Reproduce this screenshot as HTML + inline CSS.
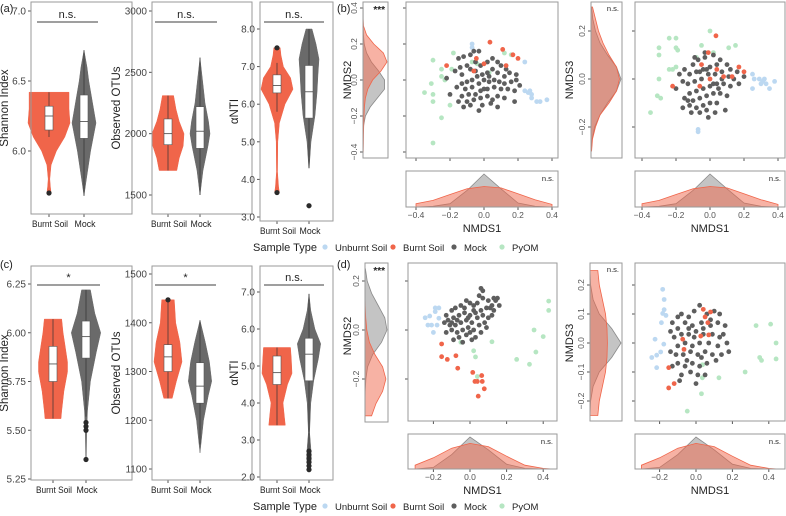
<!DOCTYPE html>
<html><head><meta charset="utf-8"><style>
html,body{margin:0;padding:0;background:#fff;}
svg{display:block;font-family:"Liberation Sans",Arial,sans-serif;}
</style></head><body>
<svg id="fig" width="786" height="516" viewBox="0 0 786 516"></svg>
<script>
// ===== DATA =====
const a1BurntY=[5.7,5.75,5.8,5.9,6.0,6.1,6.2,6.3,6.42];
const a1BurntD=[0.1,0.06,0.04,0.1,0.35,0.75,1.0,0.95,0.95];
const a1BurntBox=[6.1,6.15,6.25,6.32,6.42];
const a1BurntOut=[5.7];
const a1MockY=[5.68,5.8,6.0,6.2,6.35,6.5,6.6,6.72];
const a1MockD=[0,0.2,0.55,1.0,0.7,0.4,0.25,0];
const a1MockBox=[5.68,6.09,6.21,6.4,6.72];
const a1MockOut=[];
const a2BurntY=[1700,1800,1900,2000,2100,2200,2310];
const a2BurntD=[0.55,0.7,0.95,1.0,0.7,0.5,0.35];
const a2BurntBox=[1700,1910,2000,2120,2310];
const a2BurntOut=[];
const a2MockY=[1500,1700,1900,2000,2100,2250,2400,2620];
const a2MockD=[0,0.3,0.8,1.0,0.85,0.5,0.3,0];
const a2MockBox=[1500,1880,2020,2220,2620];
const a2MockOut=[];
const a3BurntY=[3.65,3.8,4.2,5.0,5.5,6.0,6.4,6.7,7.0,7.3,7.5];
const a3BurntD=[0.15,0.1,0.03,0.05,0.15,0.5,1.0,0.85,0.4,0.25,0.2];
const a3BurntBox=[5.8,6.3,6.5,6.78,7.1];
const a3BurntOut=[3.65,7.5];
const a3MockY=[4.3,5.0,5.7,6.3,6.8,7.2,7.6,8.0];
const a3MockD=[0.02,0.2,0.6,0.8,0.9,1.0,0.7,0.3];
const a3MockBox=[4.3,5.63,6.33,7.03,8.0];
const a3MockOut=[3.3];
const c1BurntY=[5.56,5.6,5.7,5.8,5.85,5.95,6.0,6.07];
const c1BurntD=[0.55,0.6,0.75,1.0,1.0,0.8,0.7,0.6];
const c1BurntBox=[5.56,5.75,5.84,5.93,6.07];
const c1BurntOut=[];
const c1MockY=[5.35,5.5,5.6,5.75,5.9,6.0,6.1,6.22];
const c1MockD=[0.02,0.05,0.1,0.3,0.7,1.0,0.6,0.3];
const c1MockBox=[5.57,5.87,5.98,6.06,6.22];
const c1MockOut=[5.35,5.5,5.52,5.54];
const c2BurntY=[1245,1280,1320,1360,1400,1447];
const c2BurntD=[0.3,0.6,1.0,0.85,0.55,0.45];
const c2BurntBox=[1245,1300,1330,1355,1447];
const c2BurntOut=[1447];
const c2MockY=[1133,1200,1250,1280,1320,1360,1405];
const c2MockD=[0,0.3,0.7,1.0,0.8,0.45,0];
const c2MockBox=[1150,1235,1270,1318,1405];
const c2MockOut=[];
const c3BurntY=[3.4,3.6,4.0,4.5,4.8,5.2,5.5];
const c3BurntD=[0.55,0.5,0.4,0.7,1.0,0.95,0.9];
const c3BurntBox=[3.4,4.5,4.82,5.27,5.5];
const c3BurntOut=[];
const c3MockY=[2.2,2.5,2.8,3.2,4.0,4.6,5.2,5.6,6.0,6.5,6.95];
const c3MockD=[0.1,0.2,0.15,0.05,0.15,0.4,0.8,1.0,0.5,0.15,0];
const c3MockBox=[2.75,4.6,5.32,5.75,6.95];
const c3MockOut=[2.2,2.3,2.4,2.5,2.6,2.7];

const b1Unburnt=[[-0.07,0.2],[-0.07,0.18],[0.24,0.1],[0.24,-0.06],[0.26,-0.07],[0.28,-0.08],[0.28,-0.1],[0.31,-0.12],[0.33,-0.12],[0.37,-0.11],[0.27,-0.06]];
const b1Burnt=[[0.035,0.21],[0.11,0.17],[0.17,0.14],[0.2,0.12],[-0.22,0.08],[-0.045,0.12],[0.0,0.09],[-0.06,0.05],[0.13,0.08]];
const b1PyOM=[[-0.18,0.15],[-0.3,0.11],[-0.25,0.06],[-0.25,0.02],[-0.31,-0.02],[-0.35,-0.07],[-0.3,-0.08],[-0.3,-0.12],[-0.2,-0.14],[-0.25,-0.21],[-0.3,-0.35],[-0.19,0.06],[-0.23,0.0],[0.12,0.15],[0.16,0.14],[-0.04,0.09],[-0.07,0.1],[0.03,0.04]];
const b1Mock=[[-0.15,0.12],[-0.12,0.13],[-0.08,0.14],[-0.06,0.16],[-0.03,0.16],[-0.05,0.1],[-0.1,0.08],[-0.14,0.07],[-0.17,0.05],[-0.13,0.03],[-0.08,0.06],[-0.02,0.08],[0.02,0.1],[0.05,0.12],[0.08,0.1],[0.1,0.08],[0.13,0.06],[0.15,0.04],[0.12,0.02],[0.08,0.04],[0.05,0.06],[0.02,0.04],[-0.01,0.03],[-0.04,0.02],[-0.07,0.0],[-0.1,-0.01],[-0.13,-0.02],[-0.16,-0.04],[-0.11,-0.05],[-0.07,-0.04],[-0.03,-0.02],[0.0,0.0],[0.03,-0.01],[0.06,0.0],[0.09,-0.01],[0.12,-0.02],[0.16,-0.01],[0.19,0.0],[0.21,-0.03],[0.18,-0.06],[0.14,-0.05],[0.1,-0.05],[0.06,-0.04],[0.02,-0.05],[-0.02,-0.06],[-0.05,-0.08],[-0.09,-0.08],[-0.13,-0.09],[-0.15,-0.12],[-0.1,-0.12],[-0.06,-0.11],[-0.02,-0.1],[0.02,-0.09],[0.05,-0.11],[0.08,-0.09],[0.12,-0.1],[0.18,-0.12],[0.04,-0.13],[-0.01,-0.14],[-0.08,-0.14],[-0.12,-0.15],[0.0,-0.05],[0.03,0.02],[-0.05,0.05],[0.08,-0.15],[0.19,0.03],[-0.2,-0.08],[-0.22,0.01],[-0.03,-0.17]];
const b2Unburnt=[[-0.07,-0.21],[-0.07,-0.22],[0.25,0.02],[0.26,0.0],[0.29,0.0],[0.31,-0.01],[0.32,0.0],[0.3,-0.02],[0.33,-0.02],[0.35,-0.04],[0.38,-0.01],[0.25,-0.04]];
const b2Burnt=[[0.035,0.18],[-0.01,0.11],[-0.05,0.06],[0.04,0.04],[0.0,0.0],[-0.06,-0.03],[-0.22,-0.03],[0.17,0.05],[0.2,0.03],[0.13,0.01],[0.08,0.01]];
const b2PyOM=[[0.0,0.2],[-0.24,0.17],[-0.2,0.17],[-0.2,0.13],[-0.19,0.12],[-0.3,0.13],[-0.3,0.1],[-0.05,0.14],[0.02,0.11],[0.11,0.13],[0.15,0.14],[-0.08,0.09],[-0.2,0.05],[-0.24,0.04],[-0.22,0.04],[-0.3,0.0],[-0.31,-0.07],[-0.29,-0.08],[-0.35,-0.14]];
const b2Mock=[[-0.18,0.02],[-0.15,0.04],[-0.1,0.06],[-0.07,0.08],[-0.03,0.09],[0.02,0.1],[0.06,0.08],[0.1,0.06],[0.04,0.06],[0.0,0.05],[-0.04,0.04],[-0.08,0.03],[-0.12,0.02],[-0.16,-0.01],[-0.2,-0.04],[-0.13,-0.02],[-0.09,-0.01],[-0.05,0.0],[-0.01,0.02],[0.03,0.02],[0.07,0.03],[0.11,0.01],[0.14,0.0],[0.17,-0.02],[0.12,-0.03],[0.08,-0.02],[0.04,-0.02],[0.0,-0.03],[-0.04,-0.04],[-0.08,-0.05],[-0.12,-0.06],[-0.15,-0.08],[-0.1,-0.09],[-0.06,-0.08],[-0.02,-0.07],[0.02,-0.06],[0.06,-0.06],[0.1,-0.07],[0.04,-0.1],[0.0,-0.1],[-0.04,-0.11],[-0.08,-0.12],[-0.12,-0.11],[-0.16,-0.12],[-0.11,-0.14],[-0.06,-0.14],[-0.02,-0.13],[0.03,-0.14],[0.09,-0.13],[-0.01,-0.16],[-0.13,-0.09],[0.16,0.03],[0.2,0.01],[-0.03,0.11],[-0.09,0.09],[0.07,0.0],[-0.02,0.04],[0.02,-0.02],[-0.06,0.03],[0.12,0.04],[0.05,-0.04]];
const d1Unburnt=[[-0.245,0.05],[-0.22,0.057],[-0.19,0.09],[-0.17,0.09],[-0.19,0.075],[-0.17,0.048],[-0.18,0.02],[-0.2,-0.01],[-0.23,0.02],[-0.21,0.02]];
const d1Burnt=[[-0.155,-0.057],[-0.155,-0.109],[-0.124,-0.12],[-0.077,-0.105],[-0.067,-0.156],[0.015,-0.173],[0.064,-0.186],[0.04,-0.21],[0.027,-0.21],[0.067,-0.21],[0.078,-0.24],[0.045,-0.27]];
const d1PyOM=[[0.43,0.118],[0.43,0.08],[0.35,0.0],[0.4,-0.027],[0.36,-0.09],[0.255,-0.12],[0.325,-0.14],[0.12,-0.048],[0.02,-0.085],[0.03,-0.11],[0.04,-0.19],[-0.05,-0.05]];
const d1Mock=[[-0.13,0.06],[-0.1,0.08],[-0.08,0.09],[-0.05,0.1],[-0.02,0.12],[0.0,0.11],[0.02,0.1],[0.05,0.14],[0.07,0.13],[0.1,0.12],[0.13,0.13],[0.15,0.13],[0.12,0.1],[0.09,0.09],[0.06,0.08],[0.03,0.07],[0.0,0.06],[-0.03,0.07],[-0.06,0.06],[-0.09,0.05],[-0.12,0.04],[-0.14,0.03],[-0.11,0.02],[-0.08,0.02],[-0.05,0.03],[-0.02,0.04],[0.01,0.03],[0.04,0.05],[0.07,0.06],[0.1,0.05],[0.13,0.08],[0.16,0.1],[0.08,0.03],[0.05,0.02],[0.02,0.0],[-0.01,0.01],[-0.04,0.0],[-0.07,-0.01],[-0.1,0.0],[-0.13,-0.01],[-0.06,-0.03],[-0.02,-0.02],[0.03,-0.03],[0.06,-0.01],[0.09,0.01],[-0.09,-0.04],[-0.04,-0.05],[0.01,-0.04],[0.12,0.06],[0.04,0.11],[-0.03,0.09],[0.14,0.12],[0.06,0.17],[0.07,0.16],[-0.1,0.03],[0.0,-0.01],[-0.07,0.04],[0.11,0.09],[0.02,0.08],[-0.01,0.05]];
const d2Unburnt=[[-0.183,0.185],[-0.175,0.15],[-0.175,0.115],[-0.183,0.102],[-0.165,0.095],[-0.19,0.07],[-0.225,0.013],[-0.177,-0.004],[-0.243,-0.05],[-0.216,-0.042],[-0.194,-0.031],[-0.216,-0.085]];
const d2Burnt=[[0.04,0.116],[0.08,0.107],[0.05,0.09],[0.065,0.07],[0.07,0.028],[0.026,0.024],[-0.073,0.013],[-0.066,-0.022],[-0.15,-0.085],[-0.12,-0.14],[-0.15,-0.155]];
const d2PyOM=[[0.33,0.06],[0.41,0.065],[0.44,0.0],[0.35,-0.05],[0.36,-0.06],[0.44,-0.055],[0.27,-0.1],[0.126,-0.12],[0.035,-0.12],[0.03,-0.175],[-0.048,-0.235],[0.036,-0.075]];
const d2Mock=[[-0.13,0.07],[-0.08,0.1],[-0.04,0.09],[-0.01,0.11],[0.02,0.13],[0.06,0.1],[0.1,0.11],[0.13,0.1],[0.16,0.06],[0.12,0.07],[0.08,0.06],[0.03,0.07],[-0.02,0.06],[-0.06,0.07],[-0.1,0.05],[-0.14,0.04],[-0.12,0.02],[-0.08,0.03],[-0.04,0.03],[0.0,0.04],[0.04,0.03],[0.09,0.03],[0.13,0.02],[0.17,0.0],[0.12,-0.01],[0.07,0.0],[0.02,0.0],[-0.02,-0.01],[-0.06,0.0],[-0.1,-0.01],[-0.14,-0.03],[-0.11,-0.04],[-0.07,-0.04],[-0.03,-0.03],[0.01,-0.04],[0.05,-0.03],[0.09,-0.04],[0.14,-0.04],[0.18,-0.03],[0.11,-0.06],[0.06,-0.07],[0.02,-0.08],[-0.02,-0.07],[-0.06,-0.08],[-0.1,-0.07],[-0.13,-0.08],[-0.08,-0.11],[-0.03,-0.1],[0.01,-0.11],[0.05,-0.11],[-0.09,-0.13],[0.0,-0.14],[-0.05,-0.06],[0.04,0.05],[-0.01,0.02],[0.08,0.08],[-0.1,0.09],[0.15,0.03],[0.03,-0.05],[-0.04,0.05]];

const b1MargY=[0.4,0.35,0.3,0.25,0.2,0.15,0.1,0.05,0.0,-0.05,-0.1,-0.15,-0.2,-0.25,-0.3,-0.35,-0.4];
const b1MargBurnt=[0,0,0.02,0.15,0.45,0.85,1.0,0.75,0.4,0.2,0.1,0.06,0.04,0.03,0.02,0.015,0.01];
const b1MargMock=[0.01,0.01,0.01,0.02,0.05,0.15,0.35,0.65,0.9,0.9,0.6,0.3,0.1,0.03,0.01,0,0];
const b2MargY=[0.3,0.25,0.2,0.15,0.1,0.05,0.0,-0.05,-0.1,-0.15,-0.2,-0.25,-0.3];
const b2MargBurnt=[0.05,0.15,0.25,0.4,0.6,0.85,0.95,0.85,0.6,0.3,0.15,0.05,0.02];
const b2MargMock=[0.02,0.06,0.15,0.3,0.55,0.85,1.0,0.85,0.55,0.3,0.12,0.04,0.01];
const bNmds1X=[-0.4,-0.3,-0.2,-0.1,0.0,0.1,0.2,0.3,0.4];
const bNmds1Mock=[0,0.02,0.1,0.5,1.0,0.55,0.12,0.02,0];
const bNmds1Burnt=[0.1,0.2,0.38,0.55,0.62,0.58,0.4,0.22,0.08];
const d1MargY=[0.25,0.2,0.15,0.1,0.05,0.0,-0.05,-0.1,-0.15,-0.2,-0.25,-0.3,-0.35];
const d1MargMock=[0.02,0.1,0.3,0.6,0.9,1.0,0.75,0.35,0.12,0.04,0.01,0,0];
const d1MargBurnt=[0,0,0,0.01,0.03,0.08,0.2,0.45,0.8,0.95,0.8,0.5,0.3];
const d2MargY=[0.25,0.2,0.15,0.1,0.05,0.0,-0.05,-0.1,-0.15,-0.2,-0.25];
const d2MargBurnt=[0.25,0.3,0.4,0.5,0.55,0.56,0.55,0.5,0.4,0.3,0.25];
const d2MargMock=[0,0.02,0.1,0.3,0.7,1.0,0.7,0.3,0.1,0.02,0];
const dNmds1X=[-0.3,-0.2,-0.1,0.0,0.1,0.2,0.3,0.4,0.45];
const dNmds1Mock=[0,0.05,0.45,1.0,0.6,0.15,0.02,0,0];
const dNmds1Burnt=[0.12,0.35,0.65,0.8,0.7,0.4,0.12,0.02,0];

const a1Ticks=[6.0,6.5,7.0], a2Ticks=[1500,2000,2500,3000], a3Ticks=[3,4,5,6,7,8];
const c1Ticks=[5.25,5.5,5.75,6.0,6.25], c2Ticks=[1100,1200,1300,1400,1500], c3Ticks=[2,3,4,5,6,7];
const bMargTicks=[-0.4,-0.2,0,0.2,0.4], b2MargTicks=[-0.2,0,0.2], bXTicks=[-0.4,-0.2,0,0.2,0.4];
const d1MargTicks=[-0.2,0,0.2], d2MargTicks=[-0.2,-0.1,0,0.1,0.2], dXTicks=[-0.2,0,0.2,0.4];
const categories=["Burnt Soil","Mock"];
const legendLabels=["Unburnt Soil","Burnt Soil","Mock","PyOM"];

// ===== DRAWING =====
const NS="http://www.w3.org/2000/svg";
const svg=document.getElementById('fig');
const RED="#f0654a", GRAY="#6a6a6a", DGRAY="#5e5e5e", BLUE="#bcd8f1", GREEN="#b6e6c2", DENSGRAY="#8a8a8a";
function mk(tag,attrs,parent){const e=document.createElementNS(NS,tag);for(const k in attrs)e.setAttribute(k,attrs[k]);(parent||svg).appendChild(e);return e;}
function lin(d0,r0,d1,r1){return v=>r0+(v-d0)*(r1-r0)/(d1-d0);}
function txt(x,y,s,size,anchor,parent,extra){const t=mk('text',Object.assign({x:x,y:y,'font-size':size,'text-anchor':anchor||'middle',fill:'#222'},extra||{}),parent);t.textContent=s;return t;}
function fmt(v,dec){return v.toFixed(dec).replace('-','−');}
function frame(x0,y0,x1,y1,name){const r=mk('rect',{x:x0,y:y0,width:x1-x0,height:y1-y0,fill:'none',stroke:'#9a9a9a','stroke-width':1});

return r;}

const catLabelLen=[36,21];
function violinPanel(p){
  const g=mk('g',{});
  
  
  const ys=p.ys;
  p.ticks.forEach(t=>{mk('line',{x1:p.x0-3,x2:p.x0,y1:ys(t),y2:ys(t),stroke:'#555'},g);
    const l=txt(p.x0-5,ys(t)+3.5,fmt(t,p.dec),10,'end',g,{fill:'#444'});
    
    });
  p.groups.forEach((gr,i)=>{
    const cx=p.cx[i], col=i===0?RED:GRAY;
    let pts=[];
    for(let k=0;k<gr.y.length;k++)pts.push([cx+gr.d[k]*gr.w,ys(gr.y[k])]);
    for(let k=gr.y.length-1;k>=0;k--)pts.push([cx-gr.d[k]*gr.w,ys(gr.y[k])]);
    const v=mk('path',{d:'M'+pts.map(q=>q[0].toFixed(1)+','+q[1].toFixed(1)).join('L')+'Z',fill:col,stroke:col,'stroke-width':0.5},g);
    
    
    const b=gr.box;
    mk('line',{x1:cx,x2:cx,y1:ys(b[0]),y2:ys(b[4]),stroke:'#333','stroke-width':0.7},g);
    const r=mk('rect',{x:cx-4,y:ys(b[3]),width:8,height:ys(b[1])-ys(b[3]),fill:'#fff',stroke:'#555','stroke-width':0.6},g);
    
    
    mk('line',{x1:cx-4,x2:cx+4,y1:ys(b[2]),y2:ys(b[2]),stroke:'#444','stroke-width':0.8},g);
    gr.out.forEach(o=>{const c=mk('circle',{cx:cx,cy:ys(o),r:2.6,fill:'#2a2a2a'},g);
      
      });
    mk('line',{x1:cx,x2:cx,y1:p.y1,y2:p.y1+3,stroke:'#555'},g);
    const xl=txt(cx+(i===0?1:1),p.y1+13,categories[i],9.5,'middle',g,{textLength:catLabelLen[i],lengthAdjust:'spacingAndGlyphs'});
    
    
  });
  frame(p.x0,p.y0,p.x1,p.y1,p.name+'-frame');
  const sb=mk('line',{x1:p.sig[0],x2:p.sig[1],y1:p.sig[2],y2:p.sig[2],stroke:'#666','stroke-width':1.3},g);
  
  
  const st=txt((p.sig[0]+p.sig[1])/2,p.sig[2]-4,p.sigText,11,'middle',g);
  
  
  const at=txt(0,0,p.title,11.5,'middle',g,{transform:'translate('+p.tx+','+((p.y0+p.y1)/2)+') rotate(-90)'});
  
  
}

violinPanel({name:'shannon-violin-a',x0:31,x1:132,y0:2,y1:214,ys:lin(6.0,151,7.0,11),ticks:a1Ticks,dec:1,cx:[49,84],
  groups:[{y:a1BurntY,d:a1BurntD,box:a1BurntBox,out:a1BurntOut,w:21},{y:a1MockY,d:a1MockD,box:a1MockBox,out:a1MockOut,w:12}],
  sig:[37,98,22],sigText:'n.s.',title:'Shannon Index',tx:8});
violinPanel({name:'otus-violin-a',x0:152,x1:252,y0:2,y1:214,ys:lin(1500,195,3000,11),ticks:a2Ticks,dec:0,cx:[168,200],
  groups:[{y:a2BurntY,d:a2BurntD,box:a2BurntBox,out:a2BurntOut,w:16},{y:a2MockY,d:a2MockD,box:a2MockBox,out:a2MockOut,w:10}],
  sig:[155,217,22],sigText:'n.s.',title:'Observed OTUs',tx:120});
violinPanel({name:'nti-violin-a',x0:260,x1:333,y0:2,y1:221,ys:lin(3,217,8,29),ticks:a3Ticks,dec:1,cx:[277,309],
  groups:[{y:a3BurntY,d:a3BurntD,box:a3BurntBox,out:a3BurntOut,w:16},{y:a3MockY,d:a3MockD,box:a3MockBox,out:a3MockOut,w:10}],
  sig:[264,324,22],sigText:'n.s.',title:'αNTI',tx:238});
violinPanel({name:'shannon-violin-c',x0:31,x1:132,y0:266,y1:480,ys:lin(5.25,479,6.25,284),ticks:c1Ticks,dec:2,cx:[53,86],
  groups:[{y:c1BurntY,d:c1BurntD,box:c1BurntBox,out:c1BurntOut,w:14.5},{y:c1MockY,d:c1MockD,box:c1MockBox,out:c1MockOut,w:14.7}],
  sig:[37,100,285],sigText:'*',title:'Shannon Index',tx:8});
violinPanel({name:'otus-violin-c',x0:152,x1:252,y0:266,y1:480,ys:lin(1100,469,1500,274),ticks:c2Ticks,dec:0,cx:[168,200],
  groups:[{y:c2BurntY,d:c2BurntD,box:c2BurntBox,out:c2BurntOut,w:14},{y:c2MockY,d:c2MockD,box:c2MockBox,out:c2MockOut,w:11.7}],
  sig:[155,216,285],sigText:'*',title:'Observed OTUs',tx:120});
violinPanel({name:'nti-violin-c',x0:260,x1:333,y0:266,y1:480,ys:lin(2,477,7,292),ticks:c3Ticks,dec:1,cx:[277,309],
  groups:[{y:c3BurntY,d:c3BurntD,box:c3BurntBox,out:c3BurntOut,w:15},{y:c3MockY,d:c3MockD,box:c3MockBox,out:c3MockOut,w:11.7}],
  sig:[264,324,285],sigText:'n.s.',title:'αNTI',tx:238});

function densPoly(g,pts,col,name){
  const p=mk('path',{d:'M'+pts.map(q=>q[0].toFixed(1)+','+q[1].toFixed(1)).join('L')+'Z',fill:col,'fill-opacity':0.5,stroke:col,'stroke-width':0.8},g);
  
  
}
function marginal(m){
  const g=mk('g',{});
  
  
  const W=m.x1-m.x0-1;
  [[m.mock,DENSGRAY,'density-mock'],[m.burnt,RED,'density-burnt-soil']].forEach(s=>{
    const pts=[[m.x0,m.ys(m.grid[0])]];
    m.grid.forEach((y,k)=>pts.push([m.x0+s[0][k]*W,m.ys(y)]));
    pts.push([m.x0,m.ys(m.grid[m.grid.length-1])]);
    densPoly(g,pts,s[1],s[2]);
  });
  m.ticks.forEach(t=>{mk('line',{x1:m.x0-3,x2:m.x0,y1:m.ys(t),y2:m.ys(t),stroke:'#555'},g);
    const l=txt(0,0,fmt(t,1),8.5,'middle',g,{fill:'#555',transform:'translate('+(m.x0-6)+','+m.ys(t)+') rotate(-90)'});
    
    });
  frame(m.x0,m.y0,m.x1,m.y1,m.name+'-frame');
  const s=txt(m.x1-3,m.y0+(m.star?11:9),m.label,m.star?10:7.5,'end',g,{'font-weight':m.star?'bold':'normal'});
  
  
  const t=txt(0,0,m.title,11,'middle',g,{transform:'translate('+m.tx+','+m.ty+') rotate(-90)'});
  
  
}
function bottomDens(m){
  const g=mk('g',{});
  
  
  const H=m.y1-m.y0-3;
  [[m.mock,DENSGRAY,'density-mock'],[m.burnt,RED,'density-burnt-soil']].forEach(s=>{
    const pts=[[m.xs(m.grid[0]),m.y1]];
    m.grid.forEach((x,k)=>pts.push([m.xs(x),m.y1-s[0][k]*H]));
    pts.push([m.xs(m.grid[m.grid.length-1]),m.y1]);
    densPoly(g,pts,s[1],s[2]);
  });
  m.ticks.forEach(t=>{mk('line',{x1:m.xs(t),x2:m.xs(t),y1:m.y1,y2:m.y1+3,stroke:'#555'},g);
    const l=txt(m.xs(t),m.y1+11,fmt(t,1),8.5,'middle',g,{fill:'#555'});
    
    });
  frame(m.x0,m.y0,m.x1,m.y1,m.name+'-frame');
  const s=txt(m.x1-4,m.y0+10,'n.s.',7.5,'end',g);
  
  
  const t=txt((m.x0+m.x1)/2,m.y1+25,'NMDS1',11,'middle',g);
  
  
}
function scatter(s){
  const g=mk('g',{});
  
  
  s.yt.forEach(t=>mk('line',{x1:s.x0-3,x2:s.x0,y1:s.ys(t),y2:s.ys(t),stroke:'#555'},g));
  s.xt.forEach(t=>mk('line',{x1:s.xs(t),x2:s.xs(t),y1:s.y1,y2:s.y1+3,stroke:'#555'},g));
  [[s.pyom,GREEN,'point-pyom'],[s.unburnt,BLUE,'point-unburnt-soil'],[s.mock,DGRAY,'point-mock'],[s.burnt,RED,'point-burnt-soil']].forEach(ser=>{
    ser[0].forEach(p=>{const c=mk('circle',{cx:s.xs(p[0]),cy:s.ys(p[1]),r:2.4,fill:ser[1]},g);
      
      });
  });
  frame(s.x0,s.y0,s.x1,s.y1,s.name+'-frame');
}

const bxs1=lin(0,484,0.4,552), bys=lin(0,80,0.2,44);
marginal({name:'nmds2-marginal-b',x0:363,x1:388,y0:2,y1:158,ys:bys,grid:b1MargY,burnt:b1MargBurnt,mock:b1MargMock,ticks:bMargTicks,label:'***',star:true,title:'NMDS2',tx:351,ty:80});
scatter({name:'nmds-scatter-b1',x0:406,x1:558,y0:2,y1:158,xs:bxs1,ys:bys,xt:bXTicks,yt:bMargTicks,unburnt:b1Unburnt,burnt:b1Burnt,pyom:b1PyOM,mock:b1Mock});
bottomDens({name:'nmds1-density-b1',x0:406,x1:558,y0:171,y1:207,xs:bxs1,grid:bNmds1X,burnt:bNmds1Burnt,mock:bNmds1Mock,ticks:bXTicks});
const bxs2=lin(0,710,0.4,778), bys2=lin(0,79,0.2,31);
marginal({name:'nmds3-marginal-b',x0:591,x1:622,y0:2,y1:158,ys:bys2,grid:b2MargY,burnt:b2MargBurnt,mock:b2MargMock,ticks:b2MargTicks,label:'n.s.',star:false,title:'NMDS3',tx:573,ty:80});
scatter({name:'nmds-scatter-b2',x0:635,x1:785,y0:2,y1:158,xs:bxs2,ys:bys2,xt:bXTicks,yt:b2MargTicks,unburnt:b2Unburnt,burnt:b2Burnt,pyom:b2PyOM,mock:b2Mock});
bottomDens({name:'nmds1-density-b2',x0:635,x1:785,y0:171,y1:207,xs:bxs2,grid:bNmds1X,burnt:bNmds1Burnt,mock:bNmds1Mock,ticks:bXTicks});
const dxs1=lin(0,470,0.2,506.6), dys1=lin(0,330,0.2,281);
marginal({name:'nmds2-marginal-d',x0:365,x1:388,y0:263,y1:422,ys:dys1,grid:d1MargY,burnt:d1MargBurnt,mock:d1MargMock,ticks:d1MargTicks,label:'***',star:true,title:'NMDS2',tx:351,ty:336});
scatter({name:'nmds-scatter-d1',x0:408,x1:557,y0:263,y1:421,xs:dxs1,ys:dys1,xt:dXTicks,yt:d1MargTicks,unburnt:d1Unburnt,burnt:d1Burnt,pyom:d1PyOM,mock:d1Mock});
bottomDens({name:'nmds1-density-d1',x0:408,x1:557,y0:434,y1:469,xs:dxs1,grid:dNmds1X,burnt:dNmds1Burnt,mock:dNmds1Mock,ticks:dXTicks});
const dxs2=lin(0,696,0.2,732.4), dys2=lin(0,343,0.1,314);
marginal({name:'nmds3-marginal-d',x0:590,x1:622,y0:263,y1:421,ys:dys2,grid:d2MargY,burnt:d2MargBurnt,mock:d2MargMock,ticks:d2MargTicks,label:'n.s.',star:false,title:'NMDS3',tx:573,ty:343});
scatter({name:'nmds-scatter-d2',x0:635,x1:785,y0:263,y1:421,xs:dxs2,ys:dys2,xt:dXTicks,yt:d2MargTicks,unburnt:d2Unburnt,burnt:d2Burnt,pyom:d2PyOM,mock:d2Mock});
bottomDens({name:'nmds1-density-d2',x0:635,x1:785,y0:434,y1:469,xs:dxs2,grid:dNmds1X,burnt:dNmds1Burnt,mock:dNmds1Mock,ticks:dXTicks});

[['(a)',0,12],['(b)',337,12],['(c)',0,268],['(d)',337,268]].forEach(p=>{
  const t=txt(p[1],p[2],p[0],11,'start');
  
  
});
const legCols=[BLUE,RED,DGRAY,GREEN], legDotX=[325,393,454,502];
[251,510].forEach(ly=>{
  const g=mk('g',{});
  
  
  const h=txt(253,ly,'Sample Type',11,'start',g);
  
  
  legendLabels.forEach((lab,i)=>{
    const c=mk('circle',{cx:legDotX[i],cy:ly-4,r:2.6,fill:legCols[i]},g);
    
    
    const t=txt(legDotX[i]+10,ly,lab,9.5,'start',g);
    
    
  });
});
</script>
</body></html>
